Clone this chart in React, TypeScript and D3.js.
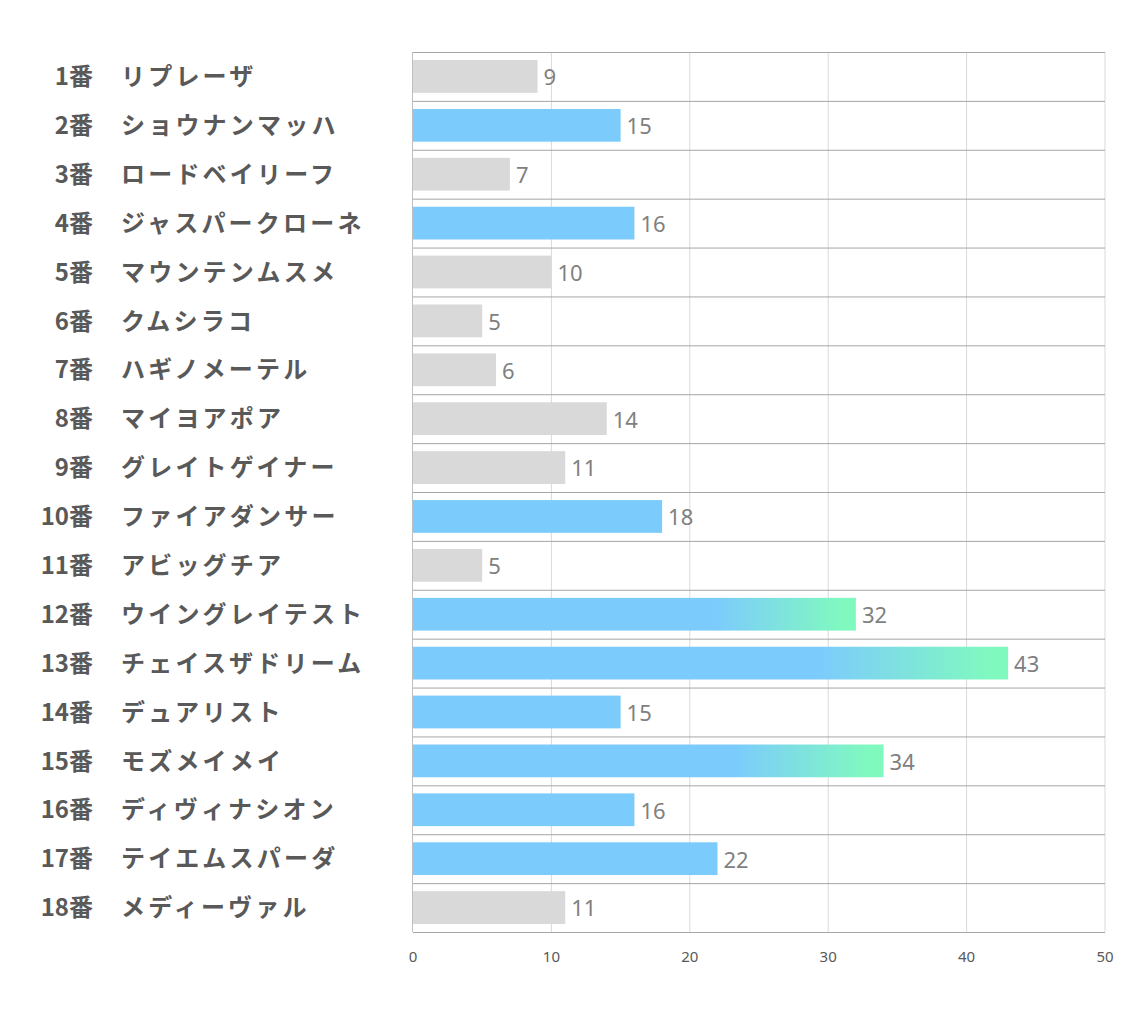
import * as d3 from "d3";
import React, { useEffect, useRef } from "react";

// horse numbers and names, top to bottom
const numbers = ["1番", "2番", "3番", "4番", "5番", "6番", "7番", "8番", "9番", "10番", "11番", "12番", "13番", "14番", "15番", "16番", "17番", "18番"];
const names = [
    "リプレーザ", "ショウナンマッハ", "ロードベイリーフ", "ジャスパークローネ", "マウンテンムスメ",
    "クムシラコ", "ハギノメーテル", "マイヨアポア", "グレイトゲイナー", "ファイアダンサー",
    "アビッグチア", "ウイングレイテスト", "チェイスザドリーム", "デュアリスト", "モズメイメイ",
    "ディヴィナシオン", "テイエムスパーダ", "メディーヴァル",
];
const values = [9, 15, 7, 16, 10, 5, 6, 14, 11, 18, 5, 32, 43, 15, 34, 16, 22, 11];
// 0 = gray, 1 = blue, 2 = blue fading to green
const kinds = [0, 1, 0, 1, 0, 0, 0, 0, 0, 1, 0, 2, 2, 1, 2, 1, 1, 0];
const ticks = [0, 10, 20, 30, 40, 50];

const W = 1134;
const H = 1020;

const App = () => {
    const ref = useRef<SVGSVGElement>(null);

    useEffect(() => {
        document.body.style.margin = "0";
        const svg = d3.select(ref.current);
        svg.selectAll("*").remove();

        const margin = { top: 52, right: 29, bottom: 88, left: 413 };
        const x = d3.scaleLinear().domain([0, 50]).range([margin.left, W - margin.right]);
        const y = d3.scaleBand<number>()
            .domain(d3.range(values.length))
            .range([margin.top, H - margin.bottom])
            .paddingInner(0.33)
            .paddingOuter(0.165);
        const step = y.step();
        const rowTop = (i: number) => margin.top + i * step;

        const defs = svg.append("defs");
        const grad = defs.append("linearGradient")
            .attr("id", "fade")
            .attr("x1", "0").attr("x2", "1").attr("y1", "0").attr("y2", "0");
        grad.append("stop").attr("offset", "0.68").attr("stop-color", "#7ccbfd");
        grad.append("stop").attr("offset", "0.97").attr("stop-color", "#80f9bf");

        // vertical gridlines
        svg.append("g")
            .selectAll("line")
            .data(ticks.slice(1))
            .join("line")
            .attr("x1", d => x(d)).attr("x2", d => x(d))
            .attr("y1", margin.top).attr("y2", H - margin.bottom)
            .attr("stroke", "#d9d9d9").attr("stroke-width", 1);

        // horizontal row lines
        svg.append("g")
            .selectAll("line")
            .data(d3.range(values.length + 1))
            .join("line")
            .attr("x1", x(0)).attr("x2", x(50))
            .attr("y1", d => rowTop(d) + 0.5).attr("y2", d => rowTop(d) + 0.5)
            .attr("stroke", "#a6a6a6").attr("stroke-width", 1);

        // left axis line
        svg.append("line")
            .attr("x1", x(0) - 0.5).attr("x2", x(0) - 0.5)
            .attr("y1", margin.top).attr("y2", H - margin.bottom)
            .attr("stroke", "#bfbfbf");

        // bars
        svg.append("g")
            .selectAll("rect")
            .data(values)
            .join("rect")
            .attr("x", x(0))
            .attr("y", (_, i) => y(i)!)
            .attr("width", d => x(d) - x(0))
            .attr("height", y.bandwidth())
            .attr("fill", (_, i) => kinds[i] === 0 ? "#d9d9d9" : kinds[i] === 1 ? "#7ccbfd" : "url(#fade)");

        // value labels
        svg.append("g")
            .selectAll("text")
            .data(values)
            .join("text")
            .attr("x", d => x(d) + 6)
            .attr("y", (_, i) => y(i)! + y.bandwidth() / 2 + 1)
            .attr("dy", "0.36em")
            .attr("font-family", "'Noto Sans', sans-serif")
            .attr("font-size", 22)
            .attr("fill", "#7f7f7f")
            .text(d => d);

        // category labels
        const labels = svg.append("g")
            .attr("font-family", "'Noto Sans CJK JP', sans-serif")
            .attr("font-weight", 700)
            .attr("font-size", 24)
            .attr("fill", "#595959");
        labels.selectAll("text.num")
            .data(numbers)
            .join("text")
            .attr("class", "num")
            .attr("x", 93)
            .attr("y", (_, i) => y(i)! + y.bandwidth() / 2)
            .attr("dy", "0.36em")
            .attr("text-anchor", "end")
            .text(d => d);
        labels.selectAll("text.name")
            .data(names)
            .join("text")
            .attr("class", "name")
            .attr("x", 121)
            .attr("y", (_, i) => y(i)! + y.bandwidth() / 2)
            .attr("dy", "0.36em")
            .attr("letter-spacing", 3.2)
            .text(d => d);

        // x tick labels
        svg.append("g")
            .selectAll("text")
            .data(ticks)
            .join("text")
            .attr("x", d => x(d))
            .attr("y", 957)
            .attr("dy", "0.36em")
            .attr("text-anchor", "middle")
            .attr("font-family", "'Noto Sans', sans-serif")
            .attr("font-size", 15)
            .attr("fill", "#595959")
            .text(d => d);
    }, []);

    return <svg ref={ref} width={W} height={H} style={{ display: "block", background: "#fff" }} />;
};

export default App;
